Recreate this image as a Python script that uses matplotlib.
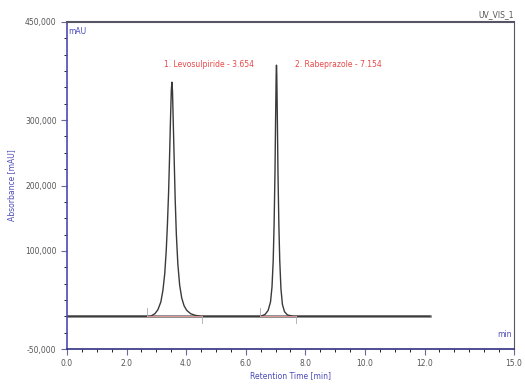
import numpy as np
import matplotlib
matplotlib.use("Agg")
import matplotlib.pyplot as plt
from matplotlib.ticker import FixedLocator, MultipleLocator, FuncFormatter

# trace (time in min, absorbance in mAU)
time_min = [0.0, 2.8, 2.95, 3.05, 3.15, 3.22, 3.28, 3.33, 3.37, 3.41, 3.44, 3.47, 3.50,
            3.52, 3.54, 3.57, 3.60, 3.63, 3.67, 3.72, 3.78, 3.85, 3.93, 4.02, 4.15,
            4.30, 4.50,
            6.50, 6.65, 6.75, 6.83, 6.88, 6.92, 6.95, 6.98, 7.00, 7.02, 7.03, 7.04,
            7.06, 7.08, 7.11, 7.14, 7.18, 7.23, 7.30, 7.40, 7.60, 12.17]
absorb = [0, 0, 4000, 10000, 22000, 40000, 65000, 100000, 140000, 190000, 240000,
          295000, 345000, 358000, 345000, 290000, 235000, 180000, 125000, 80000,
          48000, 28000, 16000, 9000, 4000, 1500, 0,
          0, 3000, 9000, 22000, 45000, 85000, 140000, 220000, 300000, 370000, 384000,
          370000, 300000, 220000, 140000, 85000, 42000, 18000, 7000, 2000, 0, 0]

peak_labels = ["1. Levosulpiride - 3.654", "2. Rabeprazole - 7.154"]
label_x = [4.75, 9.1]
label_y = [385000, 385000]

# integration baselines (start, end)
int_start = [2.7, 6.47]
int_end = [4.53, 7.7]

x_ticks = [0, 2, 4, 6, 8, 10, 12, 15]
y_ticks = [450000, 300000, 200000, 100000, -50000]

blue = "#4a4ab8"
grey = "#555555"

fig = plt.figure(figsize=(5.25, 3.88), dpi=100)
ax = fig.add_axes([0.1276, 0.1005, 0.8514, 0.8428])

ax.plot(time_min, absorb, color="#3a3a3a", lw=1.0)
ax.plot([0, 12.17], [0, 0], color="#707070", lw=1.8, zorder=1)

for s, e in zip(int_start, int_end):
    ax.plot([s, e], [0, 0], color="#f4a0a0", lw=0.6, zorder=3)
    ax.plot([s, s], [0, 12000], color="#aaaaaa", lw=0.6)
    ax.plot([e, e], [0, -10000], color="#aaaaaa", lw=0.6)

for txt, x, y in zip(peak_labels, label_x, label_y):
    ax.text(x, y, txt, color="#e84848", fontsize=5.5, ha="center", va="center")

ax.set_xlim(0, 15)
ax.set_ylim(-50000, 450000)
ax.xaxis.set_major_locator(FixedLocator(x_ticks))
ax.xaxis.set_minor_locator(MultipleLocator(0.5))
ax.yaxis.set_major_locator(FixedLocator(y_ticks))
ax.yaxis.set_minor_locator(MultipleLocator(25000))
ax.xaxis.set_major_formatter(FuncFormatter(lambda v, p: f"{v:.1f}"))
ax.yaxis.set_major_formatter(FuncFormatter(lambda v, p: f"{int(v):,}"))

ax.tick_params(axis="both", labelsize=5.5, labelcolor=grey, color="#6a6a9a", width=0.8)
ax.tick_params(axis="both", which="major", length=4)
ax.tick_params(axis="both", which="minor", length=2)

ax.spines["left"].set_color(blue)
ax.spines["left"].set_linewidth(1.2)
ax.spines["bottom"].set_color("#303080")
ax.spines["bottom"].set_linewidth(1.2)
ax.spines["top"].set_color("#555566")
ax.spines["top"].set_linewidth(1.5)
ax.spines["right"].set_color("#555566")
ax.spines["right"].set_linewidth(0.8)

ax.set_xlabel("Retention Time [min]", color=blue, fontsize=5.5, labelpad=2)
ax.set_ylabel("Absorbance [mAU]", color=blue, fontsize=5.5, labelpad=6)

ax.text(0.003, 0.985, "mAU", transform=ax.transAxes, color=blue, fontsize=5.5,
        ha="left", va="top")
ax.text(0.995, 0.03, "min", transform=ax.transAxes, color=blue, fontsize=5.5,
        ha="right", va="bottom")
ax.text(1.0, 1.01, "UV_VIS_1", transform=ax.transAxes, color=grey, fontsize=5.5,
        ha="right", va="bottom")

fig.savefig("out.png", dpi=100)
